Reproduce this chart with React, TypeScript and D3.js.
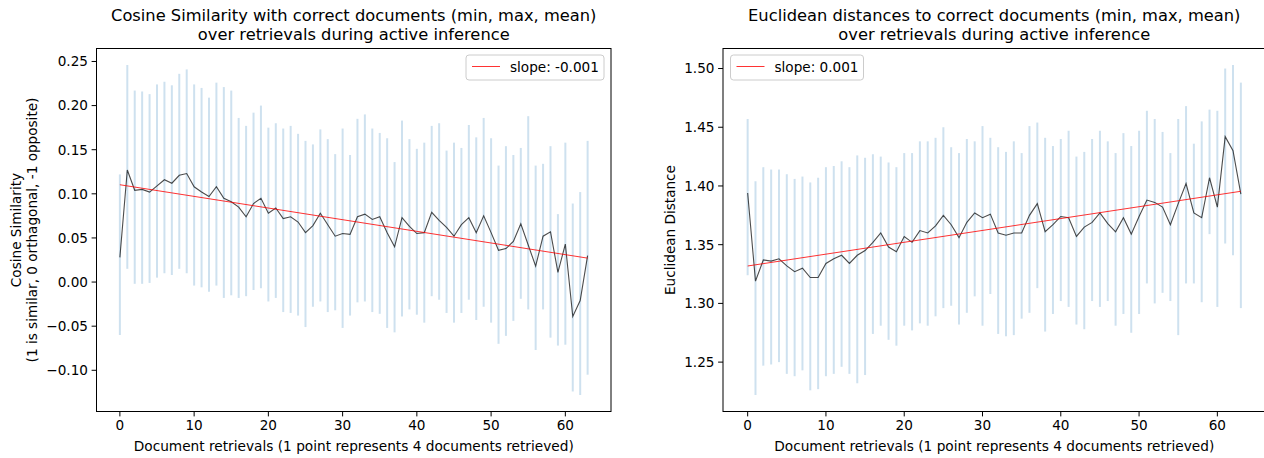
import React from 'react';
import * as d3 from 'd3';

// cosine similarity with correct documents, per retrieval step
const cosMin = [-0.060, 0.015, -0.002, -0.002, -0.001, 0.005, 0.010, 0.008, 0.015, 0.010, -0.004, -0.006, -0.011, -0.004, -0.018, -0.015, -0.018, -0.016, -0.009, -0.007, -0.022, -0.018,
  -0.034, -0.035, -0.038, -0.051, -0.028, -0.022, -0.034, -0.032, -0.052, -0.038, -0.023, -0.022, -0.034, -0.036, -0.052, -0.057, -0.039, -0.031, -0.037, -0.046, -0.016, -0.020, -0.035,
  -0.046, -0.035, -0.020, -0.043, -0.028, -0.046, -0.070, -0.061, -0.044, -0.019, -0.031, -0.077, -0.031, -0.063, -0.072, -0.071, -0.124, -0.128, -0.105];
const cosMax = [0.122, 0.246, 0.217, 0.216, 0.213, 0.224, 0.227, 0.223, 0.236, 0.241, 0.224, 0.220, 0.209, 0.226, 0.221, 0.217, 0.186, 0.177, 0.192, 0.200, 0.175, 0.180,
  0.174, 0.177, 0.168, 0.160, 0.156, 0.173, 0.162, 0.145, 0.174, 0.144, 0.185, 0.190, 0.174, 0.169, 0.163, 0.136, 0.183, 0.162, 0.151, 0.158, 0.177, 0.180, 0.149,
  0.158, 0.152, 0.178, 0.164, 0.186, 0.163, 0.132, 0.154, 0.144, 0.152, 0.188, 0.132, 0.134, 0.154, 0.077, 0.158, 0.089, 0.102, 0.160];
const cosMean = [0.028, 0.127, 0.104, 0.105, 0.102, 0.109, 0.116, 0.112, 0.121, 0.123, 0.108, 0.102, 0.097, 0.108, 0.095, 0.091, 0.085, 0.074, 0.089, 0.095, 0.078, 0.084,
  0.072, 0.074, 0.068, 0.056, 0.064, 0.078, 0.065, 0.052, 0.055, 0.054, 0.074, 0.077, 0.071, 0.074, 0.056, 0.040, 0.073, 0.063, 0.055, 0.056, 0.079, 0.070, 0.062,
  0.052, 0.065, 0.073, 0.056, 0.075, 0.056, 0.036, 0.038, 0.046, 0.066, 0.042, 0.018, 0.052, 0.057, 0.011, 0.043, -0.039, -0.021, 0.030];

// euclidean distances to correct documents
const eucMin = [1.324, 1.222, 1.247, 1.248, 1.250, 1.240, 1.238, 1.243, 1.226, 1.227, 1.238, 1.240, 1.246, 1.240, 1.232, 1.239, 1.274, 1.281, 1.269, 1.264,
  1.281, 1.277, 1.283, 1.281, 1.289, 1.296, 1.298, 1.282, 1.292, 1.306, 1.281, 1.308, 1.274, 1.272, 1.273, 1.287, 1.292, 1.313, 1.276, 1.291, 1.302,
  1.297, 1.282, 1.278, 1.302, 1.297, 1.302, 1.281, 1.291, 1.275, 1.291, 1.317, 1.300, 1.309, 1.302, 1.273, 1.317, 1.317, 1.301, 1.359, 1.297, 1.351, 1.341, 1.296];
const eucMax = [1.457, 1.404, 1.416, 1.414, 1.414, 1.410, 1.406, 1.408, 1.403, 1.407, 1.416, 1.417, 1.421, 1.416, 1.426, 1.424, 1.427, 1.425, 1.420, 1.416,
  1.428, 1.428, 1.438, 1.438, 1.441, 1.450, 1.433, 1.428, 1.440, 1.438, 1.451, 1.441, 1.433, 1.429, 1.438, 1.428, 1.451, 1.454, 1.441, 1.434, 1.440,
  1.447, 1.425, 1.429, 1.440, 1.447, 1.438, 1.428, 1.445, 1.434, 1.447, 1.464, 1.457, 1.446, 1.428, 1.457, 1.468, 1.436, 1.455, 1.465, 1.464, 1.500, 1.503, 1.488];
const eucMean = [1.394, 1.319, 1.337, 1.336, 1.338, 1.332, 1.327, 1.330, 1.322, 1.322, 1.334, 1.338, 1.341, 1.334, 1.341, 1.345, 1.352, 1.360, 1.348, 1.344,
  1.357, 1.352, 1.362, 1.360, 1.366, 1.375, 1.367, 1.356, 1.369, 1.377, 1.373, 1.376, 1.360, 1.358, 1.360, 1.360, 1.375, 1.385, 1.361, 1.367, 1.374,
  1.373, 1.357, 1.365, 1.369, 1.377, 1.368, 1.361, 1.373, 1.359, 1.374, 1.388, 1.386, 1.382, 1.367, 1.385, 1.402, 1.377, 1.373, 1.407, 1.382, 1.442, 1.430, 1.393];

const xTicks = [0, 10, 20, 30, 40, 50, 60];
const cosTicks = [-0.10, -0.05, 0.00, 0.05, 0.10, 0.15, 0.20, 0.25];
const eucTicks = [1.25, 1.30, 1.35, 1.40, 1.45, 1.50];

const W = 1264;
const H = 458;
const TOP = 48.5;
const BOTTOM = 411.5;
const FONT = 'DejaVu Sans, sans-serif';

// least squares fit of mean over index
function fit(ys: number[]) {
  const xs = ys.map((_, i) => i);
  const mx = d3.mean(xs)!;
  const my = d3.mean(ys)!;
  let num = 0, den = 0;
  xs.forEach((x, i) => { num += (x - mx) * (ys[i] - my); den += (x - mx) ** 2; });
  const slope = num / den;
  return { slope, intercept: my - slope * mx };
}

const fmtTick = (v: number) => d3.format('.2f')(v).replace('-', '\u2212');

function Panel(props: any) {
  const { left, right, title, ylabel, ylabelX, lo, hi, mean, yTicks, legendLeft } = props;
  const idx = mean.map((_: number, i: number) => i);
  const n = mean.length;
  const x = d3.scaleLinear().domain([-0.05 * (n - 1), (n - 1) * 1.05]).range([left, right]);
  const yMin = d3.min(lo as number[])!;
  const yMax = d3.max(hi as number[])!;
  const pad = (yMax - yMin) * 0.05;
  const y = d3.scaleLinear().domain([yMin - pad, yMax + pad]).range([BOTTOM, TOP]);
  const line = d3.line<number>().x((_, i) => x(i)).y(d => y(d));
  const { slope, intercept } = fit(mean);
  const cx = (left + right) / 2;

  const legW = legendLeft ? 133 : 138;
  const legX = legendLeft ? left + 7.5 : right - 7 - legW;

  return (
    <g>
      <text x={cx} textAnchor="middle" fontSize={16.3} fill="#000">
        <tspan x={cx} y={21}>{title[0]}</tspan>
        <tspan x={cx} y={39.5}>{title[1]}</tspan>
      </text>

      {idx.map((i: number) => (
        <line key={'e' + i} x1={x(i)} x2={x(i)} y1={y(lo[i])} y2={y(hi[i])}
          stroke="#1f77b4" strokeOpacity={0.22} strokeWidth={2} />
      ))}
      <path d={line(mean) || ''} fill="none" stroke="#000" strokeOpacity={0.7} strokeWidth={1.1} />
      <line x1={x(0)} x2={x(n - 1)} y1={y(intercept)} y2={y(intercept + slope * (n - 1))}
        stroke="red" strokeOpacity={0.8} strokeWidth={1} />

      <rect x={left} y={TOP} width={right - left} height={BOTTOM - TOP} fill="none" stroke="#000" strokeWidth={1} />

      {xTicks.map(t => (
        <g key={'x' + t}>
          <line x1={x(t)} x2={x(t)} y1={BOTTOM} y2={BOTTOM + 4.9} stroke="#000" strokeWidth={1} />
          <text x={x(t)} y={430} textAnchor="middle" fontSize={13.6} fill="#000">{t}</text>
        </g>
      ))}
      {yTicks.map((t: number) => (
        <g key={'y' + t}>
          <line x1={left - 4.9} x2={left} y1={y(t)} y2={y(t)} stroke="#000" strokeWidth={1} />
          <text x={left - 8.5} y={y(t)} dy="0.36em" textAnchor="end" fontSize={13.6} fill="#000">{fmtTick(t)}</text>
        </g>
      ))}

      <text x={cx} y={450.5} textAnchor="middle" fontSize={13.7} fill="#000">
        Document retrievals (1 point represents 4 documents retrieved)
      </text>
      {ylabel.map((s: string, k: number) => (
        <text key={'yl' + k} transform={`translate(${ylabelX[k]},${(TOP + BOTTOM) / 2}) rotate(-90)`}
          textAnchor="middle" dy="0.36em" fontSize={13.6} fill="#000">{s}</text>
      ))}

      <rect x={legX} y={55} width={legW} height={25} rx={3} fill="#fff" fillOpacity={0.8} stroke="#cccccc" strokeWidth={1} />
      <line x1={legX + 6} x2={legX + 34} y1={66.5} y2={66.5} stroke="red" strokeOpacity={0.8} strokeWidth={1} />
      <text x={legX + 44} y={71.5} fontSize={13.6} fill="#000">{`slope: ${slope.toFixed(3)}`}</text>
    </g>
  );
}

export default function App() {
  return (
    <svg width={W} height={H} style={{ display: 'block', position: 'absolute', left: 0, top: 0, background: '#fff' }}
      fontFamily={FONT}>
      <rect width={W} height={H} fill="#fff" />
      <Panel left={96.5} right={611} lo={cosMin} hi={cosMax} mean={cosMean} yTicks={cosTicks}
        title={['Cosine Similarity with correct documents (min, max, mean)', 'over retrievals during active inference']}
        ylabel={['Cosine Similarity', '(1 is similar, 0 orthagonal, -1 opposite)']} ylabelX={[16, 32.5]}
        legendLeft={false} />
      <Panel left={723} right={1265.5} lo={eucMin} hi={eucMax} mean={eucMean} yTicks={eucTicks}
        title={['Euclidean distances to correct documents (min, max, mean)', 'over retrievals during active inference']}
        ylabel={['Euclidean Distance']} ylabelX={[670]}
        legendLeft={true} />
    </svg>
  );
}
